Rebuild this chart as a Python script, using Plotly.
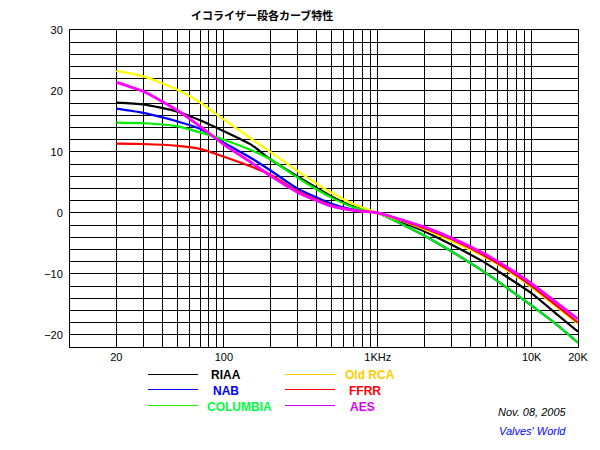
import plotly.graph_objects as go

# ---- data ----
freqs = [20, 30, 50, 70, 100, 150, 200, 300, 500, 700, 1000, 1500, 2000, 3000, 5000, 7000, 10000, 15000, 20000]

riaa     = [18.1, 17.8, 16.6, 15.2, 13.4, 11.2, 8.8, 6.0, 2.7, 1.0, 0, -1.7, -3.0, -5.2, -8.2, -10.6, -13.2, -16.9, -19.5]
nab      = [17.1, 16.4, 15.0, 13.8, 11.5, 9.0, 7.0, 4.0, 1.5, 0.5, 0, -2.1, -3.7, -6.3, -9.8, -12.4, -15.2, -18.6, -21.3]
columbia = [14.8, 14.7, 14.2, 13.2, 12.0, 10.3, 8.8, 5.8, 2.5, 0.9, 0, -2.1, -3.7, -6.3, -9.8, -12.4, -15.2, -18.6, -21.3]
old_rca  = [23.3, 22.4, 20.2, 18.1, 15.3, 12.2, 10.0, 6.9, 3.3, 1.4, 0, -1.5, -2.7, -4.6, -7.3, -9.5, -12.2, -15.7, -18.2]
ffrr     = [11.35, 11.3, 11.0, 10.5, 9.2, 7.6, 6.3, 3.6, 1.2, 0.4, 0, -1.4, -2.5, -4.3, -7.1, -9.3, -12.0, -15.5, -18.0]
aes      = [21.4, 19.9, 16.8, 14.2, 11.2, 8.3, 6.1, 3.4, 1.1, 0.4, 0, -1.3, -2.3, -4.1, -6.8, -9.0, -11.6, -15.0, -17.4]

series_names = ["RIAA", "NAB", "COLUMBIA", "Old RCA", "FFRR", "AES"]
series_data = [riaa, nab, columbia, old_rca, ffrr, aes]
curve_colors = ["#000000", "#0000ff", "#00ee00", "#ffff00", "#ff0000", "#ff00ff"]
curve_widths = [2.2, 2.2, 2.2, 2.2, 2.2, 2.8]
legend_line_colors = ["#000000", "#0000ff", "#33ee00", "#ffcc00", "#ff0000", "#cc00ff"]
legend_text_colors = ["#000000", "#0000ff", "#00ff40", "#ffcc00", "#ff0000", "#dd00ff"]

x_grid = [20, 30, 40, 50, 60, 70, 80, 90, 100, 200, 300, 400, 500, 600, 700, 800, 900,
          1000, 2000, 3000, 4000, 5000, 6000, 7000, 8000, 9000, 10000, 20000]
x_labels = {20: "20", 100: "100", 1000: "1KHz", 10000: "10K", 20000: "20K"}
y_grid = list(range(-22, 31, 2))
y_labels = {30: "30", 20: "20", 10: "10", 0: "0", -10: "−10", -20: "−20"}

title_text = "イコライザー段各カーブ特性"
date_text = "Nov. 08, 2005"
author_text = "Valves' World"

# ---- figure ----
W, H = 600, 450
OFF = 8  # page body margin offset
L, R, T, B = 70, 22, 30, 103
ML, MT = L - OFF, T - OFF
MR, MB = R + OFF, B + OFF
PW, PH = W - L - R, H - T - B


def px(xp):
    return (xp - L) / PW


def py(yp):
    return (H - B - yp) / PH


fig = go.Figure()
for name, vals, col, wd in zip(series_names, series_data, curve_colors, curve_widths):
    fig.add_trace(go.Scatter(x=freqs, y=vals, mode="lines", name=name,
                             line=dict(color=col, width=wd, shape="spline", smoothing=0.6),
                             showlegend=False, hoverinfo="skip"))

axis_font = dict(family="Liberation Sans, Arial, sans-serif", size=11, color="black")
fig.update_xaxes(type="log", range=[1, 4.30103],
                 tickvals=x_grid, ticktext=[x_labels.get(v, "") for v in x_grid],
                 showgrid=True, gridcolor="black", gridwidth=1,
                 showline=True, linecolor="black", linewidth=1, mirror=True,
                 zeroline=False, ticks="", tickfont=axis_font, tickangle=0)
fig.update_yaxes(range=[-22, 30],
                 tickvals=y_grid, ticktext=[y_labels.get(v, "") for v in y_grid],
                 showgrid=True, gridcolor="black", gridwidth=1,
                 showline=True, linecolor="black", linewidth=1, mirror=True,
                 zeroline=False, ticks="", tickfont=axis_font, ticklabelstandoff=4)

annotations = []
shapes = []
annotations.append(dict(text="<b>" + title_text + "</b>", x=px(262), y=py(14.5), xref="paper", yref="paper",
                        showarrow=False, xanchor="center", yanchor="middle",
                        font=dict(family="Noto Sans CJK JP", size=11, color="black")))

leg_rows_y = [374.5, 389.5, 405.5]
leg_cols = [(148, 198, [209, 211, 205]), (285, 335, [343, 347, 348])]
for i, (name, lc, tc) in enumerate(zip(series_names, legend_line_colors, legend_text_colors)):
    col = i // 3
    row = i % 3
    x0, x1, tx = leg_cols[col]
    yy = leg_rows_y[row]
    shapes.append(dict(type="line", xref="paper", yref="paper", x0=px(x0), x1=px(x1), y0=py(yy), y1=py(yy),
                       line=dict(color=lc, width=1)))
    annotations.append(dict(text="<b>" + name + "</b>", x=px(tx[row]), y=py(yy + 1), xref="paper", yref="paper",
                            showarrow=False, xanchor="left", yanchor="middle",
                            font=dict(family="Liberation Sans, Arial, sans-serif", size=12, color=tc)))

annotations.append(dict(text="<i>" + date_text + "</i>", x=px(496), y=py(412), xref="paper", yref="paper",
                        showarrow=False, xanchor="left", yanchor="middle",
                        font=dict(family="Liberation Sans, Arial, sans-serif", size=11, color="black")))
annotations.append(dict(text="<i>" + author_text + "</i>", x=px(497), y=py(431), xref="paper", yref="paper",
                        showarrow=False, xanchor="left", yanchor="middle",
                        font=dict(family="Liberation Sans, Arial, sans-serif", size=11, color="#0000ff")))

fig.update_layout(width=W, height=H, margin=dict(l=ML, r=MR, t=MT, b=MB, pad=0),
                  paper_bgcolor="white", plot_bgcolor="white",
                  annotations=annotations, shapes=shapes, showlegend=False)

fig.write_html("out.html")
